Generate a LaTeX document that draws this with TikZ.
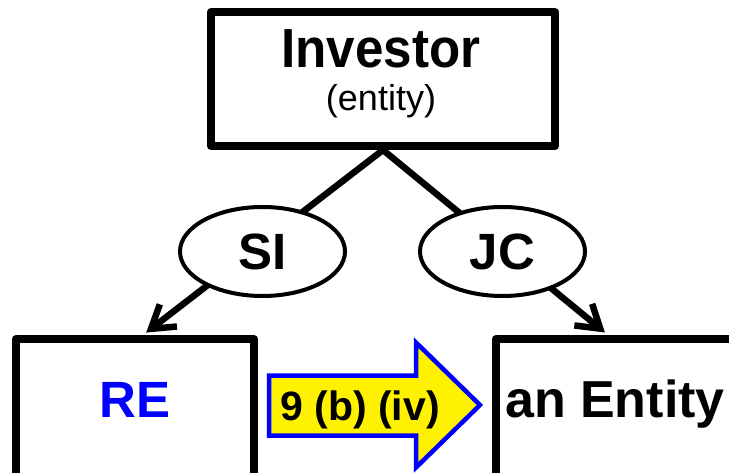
\documentclass[tikz,border=0pt]{standalone}
\usepackage{fontspec}
\setmainfont{Liberation Sans}
\usetikzlibrary{arrows.meta,shapes.geometric}

\NewDocumentCommand{\sized}{mm}{\fontsize{#1}{#1}\selectfont#2}

\begin{document}
\begin{tikzpicture}[x=1pt,y=1pt,
    box/.style={draw, line width=8pt, line join=round, inner sep=0pt},
    oval/.style={draw, ellipse, fill=white, line width=4pt, inner sep=0pt,
      minimum width=165pt, minimum height=89pt, font=\bfseries},
    link/.style={line width=6.5pt, shorten >=4pt,
      -{Straight Barb[length=22pt,width=28pt]}},
    bigarrow/.style={draw=blue, fill=yellow, line width=4.5pt, line join=miter}]
        \clip (0,0) rectangle (729,472);

        % boxes
        \node[box, minimum width=344pt, minimum height=134pt] (inv) at (383,393) {};
        \node[box, minimum width=238pt, minimum height=160pt] (re) at (135,53) {};
        \node[box, minimum width=238pt, minimum height=160pt] (ent) at (615,53) {};

        \node[anchor=base] (invname) at (381,404) {\scalebox{0.93}[1]{\sized{55}{\bfseries Investor}}};
        \node[anchor=base] (invkind) at (381,361) {\sized{36}{(entity)}};
        \node[anchor=base, text=blue] (rename) at (135,55) {\sized{51}{\bfseries RE}};
        \node[anchor=base] (entname) at (615,55) {\sized{52}{\bfseries an Entity}};

        % relations
        \draw[link] (inv.south) -- ([xshift=8pt]re.north);
        \draw[link] (inv.south) -- ([xshift=-7pt]ent.north);
        \node[oval] (si) at (262.5,220.5) {\sized{51}{SI}};
        \node[oval] (jc) at (502.5,220.5) {\sized{51}{JC}};

        % rule
        \draw[bigarrow] (269,96.5) -- (416,96.5) -- (416,129.5) -- (480,67)
          -- (416,4.5) -- (416,36.5) -- (269,36.5) -- cycle;
        \node[anchor=base] (rule) at (360,52) {\sized{41}{\bfseries 9 (b) (iv)}};
    \end{tikzpicture}
\end{document}
